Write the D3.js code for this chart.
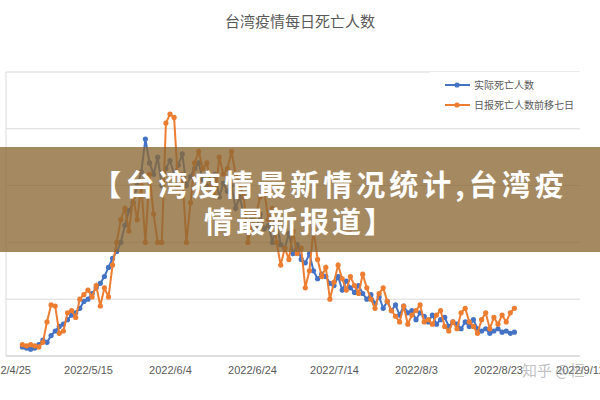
<!DOCTYPE html><html><head><meta charset="utf-8">
<script src="https://cdn.jsdelivr.net/npm/d3@7"></script>
<style>body{margin:0;background:#fff}svg{display:block;font-family:"Noto Sans CJK SC",sans-serif}</style></head><body>
<svg id="c" width="600" height="400"></svg>
<script>
const startDate = "2022-04-29";
const actualDeaths = [8,7,6,7,10,14,12,18,22,26,28,32,36,38,42,48,50,55,60,64,70,78,86,92,100,115,128,135,150,162,191,170,160,175,150,165,172,160,168,178,150,158,165,170,155,150,148,160,140,152,145,150,130,140,125,118,120,110,125,112,115,100,118,98,95,108,90,98,85,82,90,75,68,72,70,64,62,70,58,66,60,56,62,55,50,54,46,52,42,48,40,45,36,44,38,40,32,38,35,30,36,28,32,34,26,30,28,24,30,26,32,24,22,24,20,22,24,21,22,20,21];
const reportedShifted = [10,9,10,9,8,12,30,45,44,20,22,38,40,34,50,54,58,52,62,44,60,52,80,100,120,130,110,140,120,150,100,160,125,100,100,205,213,210,150,160,100,135,170,180,165,170,150,140,175,160,165,180,160,150,140,100,115,125,140,145,120,130,100,80,95,85,110,90,95,60,75,112,85,70,78,50,65,80,68,58,70,62,55,72,60,50,42,55,60,48,40,35,30,44,28,36,40,45,30,32,28,36,40,26,22,30,24,38,42,30,26,20,32,38,24,34,28,36,30,38,42];
const tickLabels = ["2022/4/25","2022/5/15","2022/6/4","2022/6/24","2022/7/14","2022/8/3","2022/8/23","2022/9/12"];
const yTicks = [0,50,100,150,200,250];
const seriesNames = ["实际死亡人数","日报死亡人数前移七日"];
const colors = ["#4472C4","#ED7D31"];

const p = d3.timeParse("%Y/%m/%d");
const t0 = d3.timeParse("%Y-%m-%d")(startDate);
const dates = actualDeaths.map((_,i)=>d3.timeDay.offset(t0,i));
const svg = d3.select("#c");
const x = d3.scaleTime().domain([p(tickLabels[0]),p(tickLabels[tickLabels.length-1])]).range([6,580]);
const y = d3.scaleLinear().domain([0,250]).range([356,72]);

svg.append("g").selectAll("line").data(yTicks.slice(1)).join("line")
  .attr("x1",6).attr("x2",580).attr("y1",d=>y(d)).attr("y2",d=>y(d)).attr("stroke","#d9d9d9");
svg.append("line").attr("x1",6).attr("x2",580).attr("y1",y(0)).attr("y2",y(0)).attr("stroke","#bfbfbf");
svg.append("line").attr("x1",6).attr("x2",6).attr("y1",y(0)).attr("y2",y(250)).attr("stroke","#d9d9d9");
const ax = svg.append("g").attr("transform",`translate(0,${y(0)})`)
  .call(d3.axisBottom(x).tickValues(tickLabels.map(p)).tickFormat((d,i)=>tickLabels[i]).tickSize(0).tickPadding(10));
ax.select(".domain").remove();
ax.selectAll("text").attr("fill","#595959").attr("font-size",11);

svg.append("text").attr("x",300).attr("y",27).attr("text-anchor","middle").attr("fill","#595959").attr("font-size",15).text("台湾疫情每日死亡人数");

[actualDeaths, reportedShifted].forEach((s,k)=>{
  const g = svg.append("g");
  g.append("path").datum(s).attr("fill","none").attr("stroke",colors[k]).attr("stroke-width",2)
    .attr("d",d3.line().x((d,i)=>x(dates[i])).y(d=>y(d)));
  g.selectAll("circle").data(s).join("circle").attr("cx",(d,i)=>x(dates[i])).attr("cy",d=>y(d)).attr("r",2.6).attr("fill",colors[k]);
});

const lg = svg.append("g");
lg.append("rect").attr("x",430).attr("y",72).attr("width",150).attr("height",56).attr("fill","#fff");
seriesNames.forEach((n,k)=>{
  const yy = 85+k*20;
  lg.append("line").attr("x1",445).attr("x2",470).attr("y1",yy).attr("y2",yy).attr("stroke",colors[k]).attr("stroke-width",2);
  lg.append("circle").attr("cx",457).attr("cy",yy).attr("r",2.6).attr("fill",colors[k]);
  lg.append("text").attr("x",474).attr("y",yy+4).attr("font-size",10).attr("fill","#595959").text(n);
});

svg.append("rect").attr("x",0).attr("y",147).attr("width",600).attr("height",105).attr("fill","rgba(139,104,52,0.78)");
svg.append("text").attr("x",330).attr("y",196).attr("text-anchor","middle").attr("fill","#fff").attr("font-size",29).attr("font-weight","bold").attr("letter-spacing",4).text("【台湾疫情最新情况统计,台湾疫");
svg.append("text").attr("x",300).attr("y",233).attr("text-anchor","middle").attr("fill","#fff").attr("font-size",29).attr("font-weight","bold").attr("letter-spacing",3).text("情最新报道】");
svg.append("text").attr("x",522).attr("y",376).attr("fill","rgba(150,150,150,0.6)").attr("font-size",15).text("知乎 @桓");
</script></body></html>
